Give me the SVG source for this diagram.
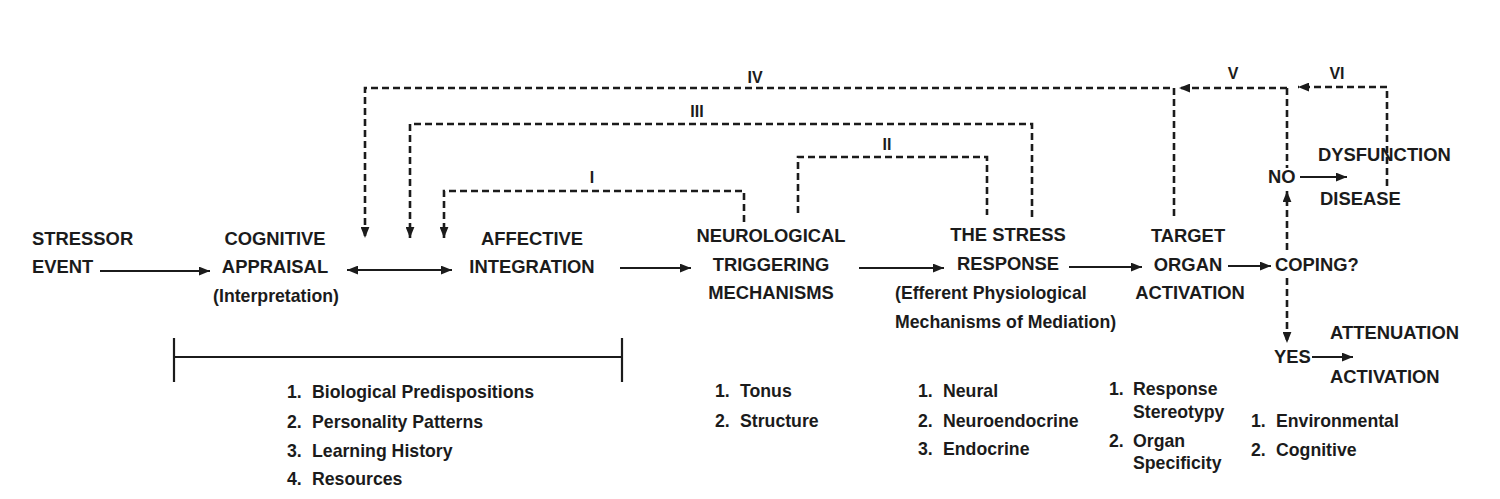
<svg xmlns="http://www.w3.org/2000/svg" width="1500" height="499" viewBox="0 0 1500 499">
<defs>
<style>
text{font-family:"Liberation Sans",Arial,sans-serif;font-weight:bold;fill:#1b1b1b}
.cap{font-size:18.4px}
.c{text-anchor:middle}
.sm{font-size:17.7px}
.rn{font-size:16px;text-anchor:middle}
.solid{stroke:#1b1b1b;stroke-width:2.2;fill:none}
.dash{stroke:#1b1b1b;stroke-width:2.6;fill:none;stroke-dasharray:7 4}
</style>
<marker id="ah" viewBox="0 0 10 8" refX="10" refY="4" markerWidth="11" markerHeight="9" markerUnits="userSpaceOnUse" orient="auto-start-reverse">
<path d="M0,0 L10,4 L0,8 z" fill="#1b1b1b"/>
</marker>
</defs>
<rect width="1500" height="499" fill="#ffffff"/>

<g id="connectors">
<line class="solid" x1="100" y1="271" x2="210" y2="271" marker-end="url(#ah)"/>
<line class="solid" x1="347" y1="270" x2="452" y2="270" marker-start="url(#ah)" marker-end="url(#ah)"/>
<line class="solid" x1="620" y1="268" x2="691" y2="268" marker-end="url(#ah)"/>
<line class="solid" x1="859" y1="268" x2="944" y2="268" marker-end="url(#ah)"/>
<line class="solid" x1="1069" y1="267" x2="1142" y2="267" marker-end="url(#ah)"/>
<line class="solid" x1="1228" y1="266" x2="1271" y2="266" marker-end="url(#ah)"/>
<line class="solid" x1="1300" y1="177" x2="1347" y2="177" marker-end="url(#ah)"/>
<line class="solid" x1="1312" y1="357" x2="1353" y2="357" marker-end="url(#ah)"/>

<path class="dash" d="M1174,216 V88 H365 V238" marker-end="url(#ah)"/>
<path class="dash" d="M1287,88 H1179" marker-end="url(#ah)"/>
<path class="dash" d="M1387,186 V87 H1298" marker-end="url(#ah)"/>
<path class="dash" d="M1287,88 V168"/>
<path class="dash" d="M1287,250 V191" marker-end="url(#ah)"/>
<path class="dash" d="M1287,278 V343" marker-end="url(#ah)"/>
<path class="dash" d="M1032,217 V124 H410 V238" marker-end="url(#ah)"/>
<path class="dash" d="M798,213 V157 H987 V215"/>
<path class="dash" d="M744,222 V191 H444 V238" marker-end="url(#ah)"/>

<text class="rn" x="755" y="83">IV</text>
<text class="rn" x="697" y="117">III</text>
<text class="rn" x="887" y="150">II</text>
<text class="rn" x="592" y="183">I</text>
<text class="rn" x="1233" y="79">V</text>
<text class="rn" x="1337" y="79">VI</text>

<line class="solid" x1="174" y1="357" x2="622" y2="357"/>
<line class="solid" x1="174" y1="338" x2="174" y2="382"/>
<line class="solid" x1="622" y1="338" x2="622" y2="382"/>
</g>

<g id="stressor">
<text class="cap" x="32" y="245">STRESSOR</text>
<text class="cap" x="32" y="273">EVENT</text>
</g>

<g id="cognitive">
<text class="cap c" x="275" y="245">COGNITIVE</text>
<text class="cap c" x="275" y="273">APPRAISAL</text>
<text class="sm c" x="276" y="302">(Interpretation)</text>
</g>

<g id="affective">
<text class="cap c" x="532" y="245">AFFECTIVE</text>
<text class="cap c" x="532" y="273">INTEGRATION</text>
</g>

<g id="neurological">
<text class="cap c" x="771" y="242">NEUROLOGICAL</text>
<text class="cap c" x="771" y="271">TRIGGERING</text>
<text class="cap c" x="771" y="299">MECHANISMS</text>
</g>

<g id="stress-response">
<text class="cap c" x="1008" y="241">THE STRESS</text>
<text class="cap c" x="1008" y="270">RESPONSE</text>
<text class="sm" x="895" y="299">(Efferent Physiological</text>
<text class="sm" x="895" y="328">Mechanisms of Mediation)</text>
</g>

<g id="target-organ">
<text class="cap c" x="1188" y="242">TARGET</text>
<text class="cap c" x="1188" y="271">ORGAN</text>
<text class="cap c" x="1190" y="299">ACTIVATION</text>
</g>

<g id="coping">
<text class="cap" x="1275" y="271">COPING?</text>
</g>

<g id="no">
<text class="cap" x="1268" y="183">NO</text>
</g>

<g id="dysfunction">
<text class="cap" x="1318" y="161">DYSFUNCTION</text>
<text class="cap" x="1320" y="205">DISEASE</text>
</g>

<g id="yes">
<text class="cap" x="1274" y="363">YES</text>
</g>

<g id="attenuation">
<text class="cap" x="1330" y="339">ATTENUATION</text>
<text class="cap" x="1330" y="383">ACTIVATION</text>
</g>

<g id="list-appraisal">
<text class="sm" x="287" y="398">1.</text><text class="sm" x="312" y="398">Biological Predispositions</text>
<text class="sm" x="287" y="428">2.</text><text class="sm" x="312" y="428">Personality Patterns</text>
<text class="sm" x="287" y="457">3.</text><text class="sm" x="312" y="457">Learning History</text>
<text class="sm" x="287" y="485">4.</text><text class="sm" x="312" y="485">Resources</text>
</g>

<g id="list-neurological">
<text class="sm" x="715" y="397">1.</text><text class="sm" x="740" y="397">Tonus</text>
<text class="sm" x="715" y="427">2.</text><text class="sm" x="740" y="427">Structure</text>
</g>

<g id="list-response">
<text class="sm" x="918" y="397">1.</text><text class="sm" x="943" y="397">Neural</text>
<text class="sm" x="918" y="427">2.</text><text class="sm" x="943" y="427">Neuroendocrine</text>
<text class="sm" x="918" y="455">3.</text><text class="sm" x="943" y="455">Endocrine</text>
</g>

<g id="list-target">
<text class="sm" x="1109" y="395">1.</text><text class="sm" x="1133" y="395">Response</text>
<text class="sm" x="1133" y="418">Stereotypy</text>
<text class="sm" x="1109" y="447">2.</text><text class="sm" x="1133" y="447">Organ</text>
<text class="sm" x="1133" y="469">Specificity</text>
</g>

<g id="list-coping">
<text class="sm" x="1251" y="427">1.</text><text class="sm" x="1276" y="427">Environmental</text>
<text class="sm" x="1251" y="456">2.</text><text class="sm" x="1276" y="456">Cognitive</text>
</g>
</svg>
